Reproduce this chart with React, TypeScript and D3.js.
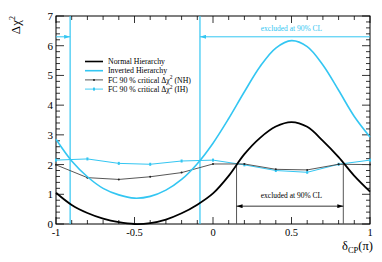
import React, { useEffect, useRef } from "react";
import * as d3 from "d3";

// delta_CP grid (units of pi) for the sensitivity curves
const deltaCP = [
  -1, -0.9, -0.8, -0.7, -0.6, -0.5, -0.4, -0.3, -0.2, -0.1, 0, 0.1, 0.2, 0.3,
  0.4, 0.5, 0.6, 0.7, 0.8, 0.9, 1,
];
const normalHierarchy = [
  1.05, 0.64, 0.37, 0.18, 0.06, 0.0, 0.03, 0.15, 0.36, 0.65, 1.03, 1.62, 2.35,
  2.9, 3.28, 3.43, 3.27, 2.8, 2.25, 1.62, 1.09,
];
const invertedHierarchy = [
  2.85, 2.12, 1.59, 1.2, 0.98, 0.87, 0.93, 1.14, 1.5, 2.03, 2.72, 3.55, 4.45,
  5.3, 5.92, 6.17, 5.97, 5.35, 4.5, 3.62, 2.93,
];

// Feldman-Cousins critical values
const fcDeltaCP = [-1, -0.8, -0.6, -0.4, -0.2, 0, 0.2, 0.4, 0.6, 0.8, 1];
const fcNormal = [1.99, 1.56, 1.5, 1.59, 1.73, 2.02, 2.02, 1.84, 1.82, 2.01, 2.0];
const fcInverted = [2.15, 2.19, 2.04, 2.01, 2.12, 2.15, 1.99, 1.8, 1.74, 2.01, 2.15];

const ihExcluded = [-0.91, -0.083];
const nhExcluded = [0.15, 0.83];
const nhCritAtEdge = 2.03;

const xTickValues = [-1, -0.5, 0, 0.5, 1];
const xTickLabels = ["-1", "-0.5", "0", "0.5", "1"];
const yTickValues = [0, 1, 2, 3, 4, 5, 6, 7];

const legendLabels = [
  "Normal Hierarchy",
  "Inverted Hierarchy",
  "FC 90 % critical Δχ",
  "FC 90 % critical Δχ",
];
const legendSuffix = ["", "", " (NH)", " (IH)"];

const CYAN = "#33c6f2";
const FONT = "'Liberation Serif', 'DejaVu Serif', serif";

export default function App() {
  const ref = useRef<SVGSVGElement>(null);

  useEffect(() => {
    const width = 382;
    const height = 262;
    const left = 56;
    const right = 370;
    const top = 16;
    const bottom = 224;

    const svg = d3.select(ref.current);
    svg.selectAll("*").remove();
    svg.attr("width", width).attr("height", height);

    const x = d3.scaleLinear([-1, 1], [left, right]);
    const y = d3.scaleLinear([0, 7], [bottom, top]);

    const defs = svg.append("defs");
    const addMarker = (id: string, color: string) =>
      defs
        .append("marker")
        .attr("id", id)
        .attr("markerUnits", "userSpaceOnUse")
        .attr("markerWidth", 6)
        .attr("markerHeight", 4)
        .attr("refX", 6)
        .attr("refY", 2)
        .attr("orient", "auto-start-reverse")
        .append("path")
        .attr("d", "M0,0L6,2L0,4Z")
        .attr("fill", color);
    addMarker("arrC", CYAN);
    addMarker("arrK", "#000");

    // frame
    svg
      .append("rect")
      .attr("x", left)
      .attr("y", top)
      .attr("width", right - left)
      .attr("height", bottom - top)
      .attr("fill", "none")
      .attr("stroke", "#000")
      .attr("stroke-width", 1);

    const ticks = svg.append("g").attr("stroke", "#000").attr("stroke-width", 0.8);
    d3.ticks(-1, 1, 20).forEach((v) => {
      const major = Math.abs(v * 2 - Math.round(v * 2)) < 1e-6;
      const len = major ? 7 : 4;
      ticks.append("line").attr("x1", x(v)).attr("x2", x(v)).attr("y1", bottom).attr("y2", bottom - len);
      ticks.append("line").attr("x1", x(v)).attr("x2", x(v)).attr("y1", top).attr("y2", top + len);
    });
    d3.ticks(0, 7, 35).forEach((v) => {
      const major = Math.abs(v - Math.round(v)) < 1e-6;
      const len = major ? 8 : 4;
      ticks.append("line").attr("x1", left).attr("x2", left + len).attr("y1", y(v)).attr("y2", y(v));
      ticks.append("line").attr("x1", right).attr("x2", right - len).attr("y1", y(v)).attr("y2", y(v));
    });

    // tick labels
    svg
      .append("g")
      .selectAll("text")
      .data(xTickValues)
      .join("text")
      .attr("x", (d) => x(d))
      .attr("y", bottom + 12)
      .attr("text-anchor", "middle")
      .attr("font-family", FONT)
      .attr("font-size", 10.5)
      .text((d, i) => xTickLabels[i]);
    svg
      .append("g")
      .selectAll("text")
      .data(yTickValues)
      .join("text")
      .attr("x", left - 3)
      .attr("y", (d) => y(d) + 4)
      .attr("text-anchor", "end")
      .attr("font-family", FONT)
      .attr("font-size", 11)
      .text((d) => d);

    // axis titles
    const xt = svg
      .append("text")
      .attr("x", right + 3)
      .attr("y", 249.5)
      .attr("text-anchor", "end")
      .attr("font-family", FONT)
      .attr("font-size", 12.5);
    xt.append("tspan").text("δ");
    xt.append("tspan").attr("font-size", 8.5).attr("dy", 3).text("CP");
    xt.append("tspan").attr("dy", -3).text("(π)");

    const yt = svg
      .append("text")
      .attr("transform", `translate(20,${top}) rotate(-90)`)
      .attr("text-anchor", "end")
      .attr("font-family", FONT)
      .attr("font-size", 13);
    yt.append("tspan").text("Δχ");
    yt.append("tspan").attr("font-size", 8).attr("dy", -5).text("2");

    // exclusion markers
    const ex = svg.append("g");
    ihExcluded.forEach((v) => {
      ex.append("line")
        .attr("x1", x(v))
        .attr("x2", x(v))
        .attr("y1", y(0))
        .attr("y2", y(7))
        .attr("stroke", CYAN)
        .attr("stroke-width", 1.2);
    });
    ex.append("line")
      .attr("x1", x(-1))
      .attr("x2", x(ihExcluded[0]))
      .attr("y1", y(6.3))
      .attr("y2", y(6.3))
      .attr("stroke", CYAN)
      .attr("stroke-width", 1)
      .attr("marker-end", "url(#arrC)");
    ex.append("line")
      .attr("x1", x(1))
      .attr("x2", x(ihExcluded[1]))
      .attr("y1", y(6.3))
      .attr("y2", y(6.3))
      .attr("stroke", CYAN)
      .attr("stroke-width", 1)
      .attr("marker-end", "url(#arrC)");
    ex.append("text")
      .attr("x", x(0.5))
      .attr("y", y(6.3) - 6)
      .attr("text-anchor", "middle")
      .attr("font-family", FONT)
      .attr("font-size", 7.5)
      .attr("fill", CYAN)
      .text("excluded at 90% CL");

    nhExcluded.forEach((v) => {
      ex.append("line")
        .attr("x1", x(v))
        .attr("x2", x(v))
        .attr("y1", y(0))
        .attr("y2", y(nhCritAtEdge))
        .attr("stroke", "#555")
        .attr("stroke-width", 1);
    });
    ex.append("line")
      .attr("x1", x(nhExcluded[0]))
      .attr("x2", x(nhExcluded[1]))
      .attr("y1", y(0.6))
      .attr("y2", y(0.6))
      .attr("stroke", "#000")
      .attr("stroke-width", 0.8)
      .attr("marker-start", "url(#arrK)")
      .attr("marker-end", "url(#arrK)");
    ex.append("text")
      .attr("x", x(0.5))
      .attr("y", y(0.6) - 8)
      .attr("text-anchor", "middle")
      .attr("font-family", FONT)
      .attr("font-size", 7.5)
      .attr("fill", "#000")
      .text("excluded at 90% CL");

    // FC critical lines
    const fcLine = d3
      .line<number>()
      .x((d, i) => x(fcDeltaCP[i]))
      .y((d) => y(d));
    svg
      .append("path")
      .attr("d", fcLine(fcInverted))
      .attr("fill", "none")
      .attr("stroke", CYAN)
      .attr("stroke-width", 1);
    svg
      .append("g")
      .selectAll("rect")
      .data(fcInverted)
      .join("rect")
      .attr("x", (d, i) => x(fcDeltaCP[i]) - 1)
      .attr("y", (d) => y(d) - 1.5)
      .attr("width", 2)
      .attr("height", 3)
      .attr("fill", CYAN);
    svg
      .append("path")
      .attr("d", fcLine(fcNormal))
      .attr("fill", "none")
      .attr("stroke", "#444")
      .attr("stroke-width", 0.9);
    svg
      .append("g")
      .selectAll("circle")
      .data(fcNormal)
      .join("circle")
      .attr("cx", (d, i) => x(fcDeltaCP[i]))
      .attr("cy", (d) => y(d))
      .attr("r", 1)
      .attr("fill", "#222");

    // sensitivity curves
    const curve = d3
      .line<number>()
      .x((d, i) => x(deltaCP[i]))
      .y((d) => y(Math.max(0, d)))
      .curve(d3.curveCatmullRom.alpha(0.5));
    svg
      .append("path")
      .attr("d", curve(invertedHierarchy))
      .attr("fill", "none")
      .attr("stroke", CYAN)
      .attr("stroke-width", 1.6);
    svg
      .append("path")
      .attr("d", curve(normalHierarchy))
      .attr("fill", "none")
      .attr("stroke", "#000")
      .attr("stroke-width", 1.8);

    // legend
    const lg = svg.append("g").attr("font-family", FONT).attr("font-size", 7.8);
    const styles = [
      { c: "#000", w: 1.6, m: "" },
      { c: CYAN, w: 1.6, m: "" },
      { c: "#444", w: 0.9, m: "dot" },
      { c: CYAN, w: 0.9, m: "rect" },
    ];
    legendLabels.forEach((label, i) => {
      const ly = 61.5 + i * 9.2;
      const s = styles[i];
      lg.append("line")
        .attr("x1", 85)
        .attr("x2", 103)
        .attr("y1", ly)
        .attr("y2", ly)
        .attr("stroke", s.c)
        .attr("stroke-width", s.w);
      if (s.m === "dot") lg.append("circle").attr("cx", 94).attr("cy", ly).attr("r", 1).attr("fill", "#222");
      if (s.m === "rect")
        lg.append("rect").attr("x", 93).attr("y", ly - 1.5).attr("width", 2).attr("height", 3).attr("fill", CYAN);
      const t = lg.append("text").attr("x", 108).attr("y", ly + 2.7);
      t.append("tspan").text(label);
      if (legendSuffix[i]) {
        t.append("tspan").attr("font-size", 5.5).attr("dy", -3.2).text("2");
        t.append("tspan").attr("dy", 3.2).text(legendSuffix[i]);
      }
    });
  }, []);

  return (
    <svg
      ref={ref}
      style={{ position: "absolute", left: 0, top: 0, background: "#fff" }}
    />
  );
}
